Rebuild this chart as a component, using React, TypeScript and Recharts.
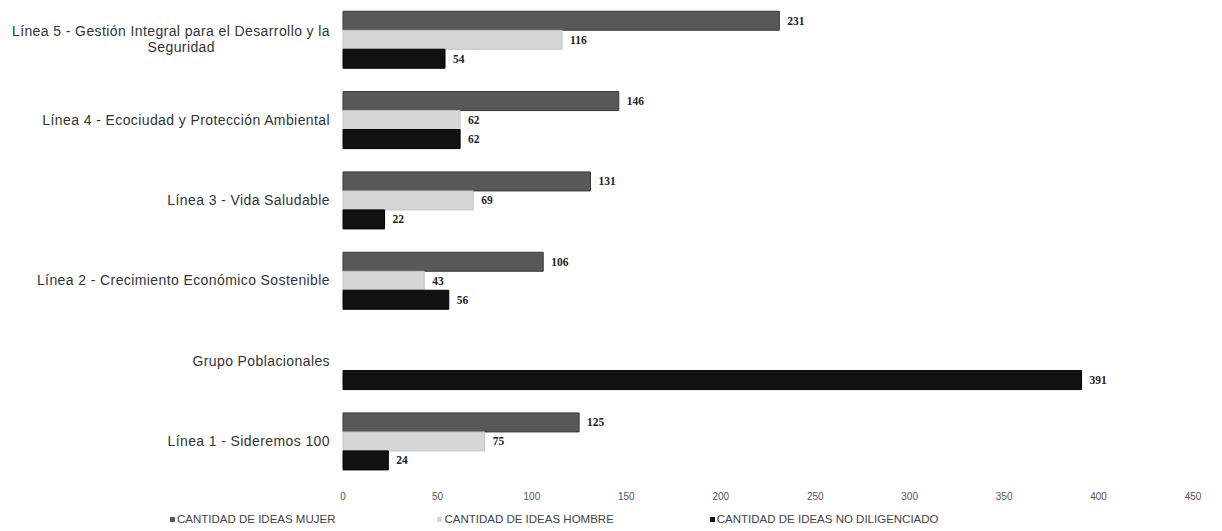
import { BarChart, Bar, XAxis, YAxis, Legend, LabelList } from 'recharts'

const categories = [
  'Línea 5 - Gestión Integral para el Desarrollo y la Seguridad',
  'Línea 4 - Ecociudad y Protección Ambiental',
  'Línea 3 - Vida Saludable',
  'Línea 2 - Crecimiento Económico Sostenible',
  'Grupo Poblacionales',
  'Línea 1 - Sideremos 100',
]

const ideasMujer = [231, 146, 131, 106, null, 125]
const ideasHombre = [116, 62, 69, 43, null, 75]
const ideasNoDiligenciado = [54, 62, 22, 56, 391, 24]

const xTicks = [0, 50, 100, 150, 200, 250, 300, 350, 400, 450]

const series = [
  { key: 'mujer', name: 'CANTIDAD DE IDEAS MUJER', color: '#585858', stroke: '#383838' },
  { key: 'hombre', name: 'CANTIDAD DE IDEAS HOMBRE', color: '#d6d6d6', stroke: '#c4c4c4' },
  { key: 'noDiligenciado', name: 'CANTIDAD DE IDEAS NO DILIGENCIADO', color: '#111111', stroke: '#000000' },
]

const data = categories.map((name, i) => ({
  name,
  mujer: ideasMujer[i],
  hombre: ideasHombre[i],
  noDiligenciado: ideasNoDiligenciado[i],
}))

const font = "Arial, 'Liberation Sans', sans-serif"

// wraps long category names like Excel does (second line centred under the first)
function CategoryTick({ x, y, payload }: any) {
  const text: string = payload.value
  const maxChars = 54
  if (text.length <= maxChars) {
    return (
      <text x={x - 5} y={y} dy={4} textAnchor="end" fontSize={14} letterSpacing={0.4} fill="#333" fontFamily={font}>
        {text}
      </text>
    )
  }
  const cut = text.lastIndexOf(' ', maxChars)
  const first = text.slice(0, cut)
  const second = text.slice(cut + 1)
  const approxWidth = first.length * 5.95
  return (
    <text fontSize={14} letterSpacing={0.4} fill="#333" fontFamily={font}>
      <tspan x={x - 5} y={y - 4} textAnchor="end">{first}</tspan>
      <tspan x={x - 5 - approxWidth / 2} y={y + 12} textAnchor="middle">{second}</tspan>
    </text>
  )
}

function LegendContent() {
  return (
    <div style={{ display: 'flex', paddingLeft: 170, paddingTop: 9, fontFamily: font, fontSize: 11.5, color: '#444' }}>
      {series.map((s, i) => (
        <div key={s.key} style={{ display: 'flex', alignItems: 'center', marginRight: i === 0 ? 102 : 96 }}>
          <span style={{ display: 'inline-block', width: 5, height: 5, background: s.color, marginRight: 2 }} />
          <span>{s.name}</span>
        </div>
      ))}
    </div>
  )
}

export default function App() {
  return (
    <div style={{ position: 'absolute', left: 0, top: 0, background: '#fff' }}>
      <BarChart
        width={1222}
        height={531}
        data={data}
        layout="vertical"
        margin={{ top: 0, right: 29, left: 0, bottom: 0 }}
        barCategoryGap="14%"
        barGap={0}
      >
        <XAxis
          type="number"
          domain={[0, 450]}
          ticks={xTicks}
          axisLine={false}
          tickLine={false}
          height={22}
          dy={3}
          tick={{ fontSize: 10, fill: '#555', fontFamily: font }}
        />
        <YAxis
          type="category"
          dataKey="name"
          width={343}
          axisLine={false}
          tickLine={false}
          tick={<CategoryTick />}
          interval={0}
        />
        <Legend verticalAlign="bottom" height={27} content={<LegendContent />} />
        {series.map((s) => (
          <Bar
            key={s.key}
            dataKey={s.key}
            name={s.name}
            fill={s.color}
            stroke={s.stroke}
            strokeWidth={1}
            isAnimationActive={false}
          >
            <LabelList
              dataKey={s.key}
              position="right"
              offset={8}
              style={{ fontSize: 11.5, fontWeight: 'bold', fill: '#222', fontFamily: "'Liberation Serif', 'DejaVu Serif', serif" }}
            />
          </Bar>
        ))}
      </BarChart>
    </div>
  )
}
